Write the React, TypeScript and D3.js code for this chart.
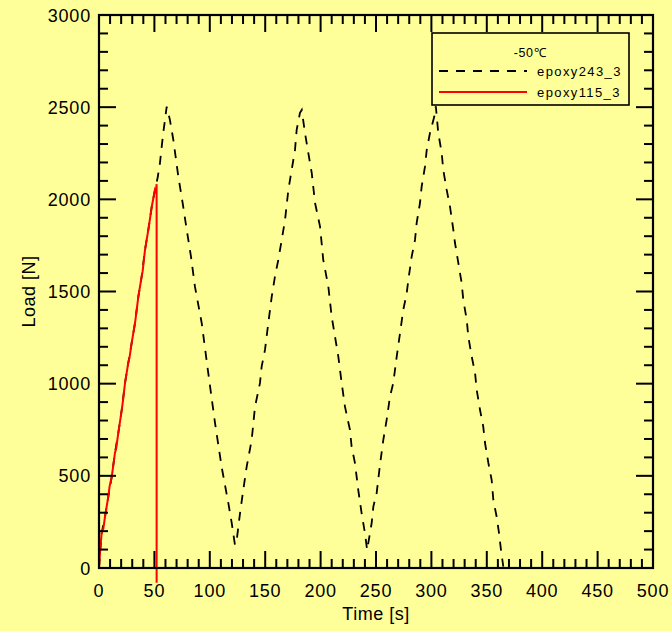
import React, { useEffect } from 'react';
import * as d3 from 'd3';

// epoxy243_3 (dashed black), time [s] / load [N]
const blackTime = [
  0, 2.4, 5.4, 8.4, 11.5, 14.4, 17.4, 20.5, 23.5, 26.4, 29.5, 32.5, 35.5, 38.5, 41.5, 44.5, 47.6, 50.5,
  53, 55, 56.6, 58, 61.1, 64, 67.1, 71.6, 75.5, 79.2, 83, 86.6, 92.7, 98.6, 104.7, 110.7, 116.7, 119.8,
  122.7, 124.3, 127.3, 130.2, 133.3, 137.8, 140.8, 145.3, 146.8, 149.8, 152.8, 155.9, 158.8, 161.8,
  164.9, 167.9, 170.9, 173.9, 176.9, 178.4, 181.4, 183, 185.9, 188.9, 192, 195, 199.5, 202.4, 207, 210,
  213, 216, 219, 222, 226.5, 228, 231, 234, 237, 240, 242, 246.1, 247.6, 250.6, 253.6, 256.6, 259.6,
  262.6, 265.6, 268.7, 271.7, 274.6, 277.7, 279.2, 282.2, 285.2, 286.7, 289.7, 291.2, 294.2, 295.8,
  298.7, 302.6, 304, 306.2, 309.3, 310.7, 313.8, 316.8, 319.8, 321.3, 324.3, 327.3, 328.8, 331.9, 333.3,
  336.4, 339.4, 340.9, 343.9, 346.8, 348.4, 351.4, 354.4, 355.9, 358.9, 361, 362.8, 364.9,
];
const blackLoad = [
  0, 190, 278, 387, 495, 624, 732, 857, 1004, 1112, 1221, 1329, 1472, 1581, 1725, 1834, 1960, 2051,
  2120, 2197, 2286, 2360, 2503, 2431, 2322, 2123, 1980, 1834, 1690, 1526, 1329, 1058, 787, 548, 353, 244,
  125, 152, 298, 423, 550, 695, 875, 1004, 1093, 1183, 1329, 1472, 1581, 1671,
  1780, 1888, 2051, 2160, 2268, 2377, 2469, 2485, 2360, 2252, 2143, 1980, 1852, 1671, 1526, 1364,
  1255, 1147, 1004, 875, 749, 658, 570, 423, 298, 190, 98, 244, 333, 407, 560, 695, 803,
  929, 1004, 1147, 1275, 1400, 1490, 1563, 1689, 1780, 1872, 1980, 2069, 2177, 2268,
  2360, 2449, 2505, 2360, 2252, 2160, 2051, 1960, 1834, 1763, 1655, 1546, 1454, 1346, 1255,
  1147, 1058, 966, 857, 767, 678, 570, 477, 369, 278, 190, 98, 7,
];

// epoxy115_3 (red)
const redTime = [0, 1.2, 2.4, 4, 5.4, 8.4, 9.5, 11.5, 14.4, 15.5, 17.4, 20.5, 21.6, 23.5, 26.4, 27.5, 29.5, 32.5, 33.6, 35.5, 38.5, 39.4, 41.5, 44.5, 45.4, 47.6, 50.5, 51.3, 52, 52];
const redLoad = [0, 110, 190, 215, 278, 387, 440, 495, 624, 650, 732, 857, 905, 1004, 1112, 1140, 1221, 1329, 1380, 1472, 1581, 1610, 1725, 1834, 1870, 1960, 2051, 2040, 2082, -80];

const xMajor = [0, 50, 100, 150, 200, 250, 300, 350, 400, 450, 500];
const yMajor = [0, 500, 1000, 1500, 2000, 2500, 3000];

const W = 672;
const H = 631;
const BG = '#ffff99';
const FONT = '"Liberation Sans", Arial, sans-serif';

const App: React.FC = () => {
  useEffect(() => {
    document.body.style.margin = '0';
  }, []);

  const left = 99, right = 653, top = 15, bottom = 568;
  const x = d3.scaleLinear().domain([0, 500]).range([left, right]);
  const y = d3.scaleLinear().domain([0, 3000]).range([bottom, top]);

  const xMinor = d3.range(0, 501, 10).filter(v => v % 50 !== 0);
  const yMinor = d3.range(0, 3001, 100).filter(v => v % 500 !== 0);

  const line = d3.line<[number, number]>().x(d => x(d[0])).y(d => y(d[1]));

  const blackPts = blackTime.map((t, i) => [t, blackLoad[i]] as [number, number]);
  const redPts = redTime.map((t, i) => [t, redLoad[i]] as [number, number]);

  const major = 17;
  const minor = 9;

  return (
    <svg width={W} height={H} style={{ display: 'block', position: 'absolute', left: 0, top: 0 }} fontFamily={FONT}>
      <rect x={0} y={0} width={W} height={H} fill={BG} />

      <path d={line(blackPts) || ''} fill="none" stroke="#000" strokeWidth={1.8} strokeDasharray="9,8" />
      <path d={line(redPts) || ''} fill="none" stroke="#ff0000" strokeWidth={2} />

      {/* ticks, all inward on four sides */}
      <g stroke="#000" strokeWidth={2}>
        {xMajor.map(v => (
          <g key={'xM' + v}>
            <line x1={x(v)} x2={x(v)} y1={bottom} y2={bottom - major} />
            <line x1={x(v)} x2={x(v)} y1={top} y2={top + major} />
          </g>
        ))}
        {xMinor.map(v => (
          <g key={'xm' + v}>
            <line x1={x(v)} x2={x(v)} y1={bottom} y2={bottom - minor} />
            <line x1={x(v)} x2={x(v)} y1={top} y2={top + minor} />
          </g>
        ))}
        {yMajor.map(v => (
          <g key={'yM' + v}>
            <line x1={left} x2={left + major} y1={y(v)} y2={y(v)} />
            <line x1={right} x2={right - major} y1={y(v)} y2={y(v)} />
          </g>
        ))}
        {yMinor.map(v => (
          <g key={'ym' + v}>
            <line x1={left} x2={left + minor} y1={y(v)} y2={y(v)} />
            <line x1={right} x2={right - minor} y1={y(v)} y2={y(v)} />
          </g>
        ))}
      </g>
      <rect x={left} y={top} width={right - left} height={bottom - top} fill="none" stroke="#000" strokeWidth={2.2} />

      {/* tick labels */}
      <g fontSize={18} fill="#000" letterSpacing={0.8}>
        {xMajor.map(v => (
          <text key={'xl' + v} x={x(v)} y={597} textAnchor="middle">{v}</text>
        ))}
        {yMajor.map(v => (
          <text key={'yl' + v} x={91} y={y(v) + 6.5} textAnchor="end">{v}</text>
        ))}
      </g>

      <text x={(left + right) / 2} y={620} textAnchor="middle" fontSize={18} letterSpacing={0.5}>Time [s]</text>
      <text transform={`translate(35, ${(top + bottom) / 2}) rotate(-90)`} textAnchor="middle" fontSize={18} letterSpacing={0.5}>Load [N]</text>

      {/* legend */}
      <g>
        <rect x={432} y={33} width={197} height={72} fill={BG} stroke="#000" strokeWidth={1.6} />
        <text x={530} y={57} textAnchor="middle" fontSize={12.5} letterSpacing={0.6}>-50℃</text>
        <line x1={439} x2={527} y1={71} y2={71} stroke="#000" strokeWidth={1.8} strokeDasharray="9,8" />
        <text x={537} y={75.5} fontSize={13} letterSpacing={1.4}>epoxy243_3</text>
        <line x1={439} x2={527} y1={92} y2={92} stroke="#ff0000" strokeWidth={2} />
        <text x={537} y={96.5} fontSize={13} letterSpacing={1.4}>epoxy115_3</text>
      </g>
    </svg>
  );
};

export default App;
